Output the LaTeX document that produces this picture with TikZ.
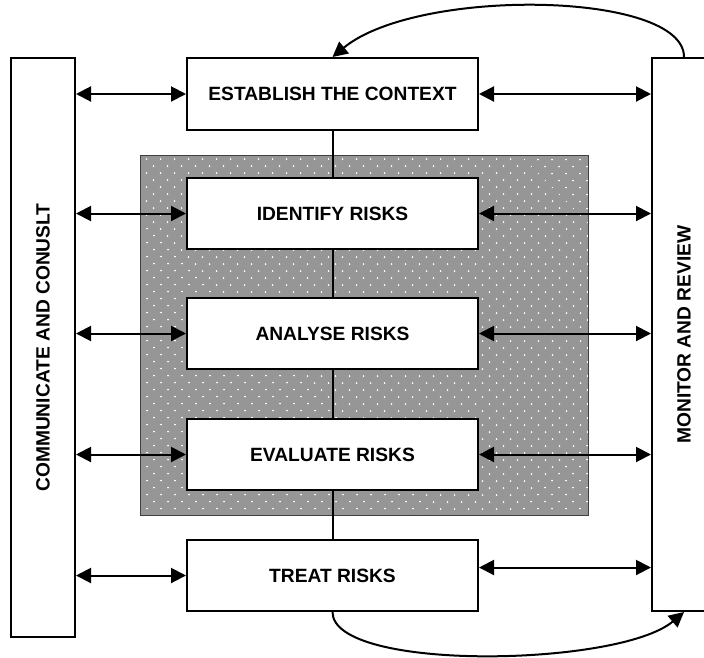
\documentclass[tikz,border=0pt]{standalone}
\usepackage{fontspec}
\setmainfont{Liberation Sans}
\usetikzlibrary{positioning, arrows.meta, patterns.meta}

\begin{document}
\begin{tikzpicture}[x=1pt, y=-1pt, line width=2pt,
	>={Triangle[length=15pt,width=15pt]},
	stage/.style={draw, fill=white, minimum width=291pt, minimum height=71pt,
		inner sep=0pt, font=\bfseries\fontsize{19.2}{22}\selectfont},
	side/.style={draw, fill=white, rotate=90, minimum height=64pt,
		inner sep=0pt, font=\bfseries\fontsize{19.2}{22}\selectfont}]
	\useasboundingbox (0,0) rectangle (704,657);
	
	\fill[black!41] (140,155) rectangle (588,515);
	\fill[pattern={Dots[angle=45, distance=10.5pt, radius=1pt]}, pattern color=white]
		(140,155) rectangle (588,515);
	\draw[black!75, line width=1pt] (140,155) rectangle (588,515);
	
	\node[stage, minimum height=72pt] (ctx) at (332.5,94) {ESTABLISH THE CONTEXT};
	\node[stage, below=46pt of ctx] (idf) {IDENTIFY RISKS};
	\node[stage, below=47pt of idf] (ana) {ANALYSE RISKS};
	\node[stage, below=48pt of ana] (eva) {EVALUATE RISKS};
	\node[stage, below=48pt of eva] (trt) {TREAT RISKS};
	\node[side, minimum width=579pt] (com) at (43,347.5) {COMMUNICATE AND CONUSLT};
	\node[side, minimum width=553pt] (mon) at (684,334.5) {MONITOR AND REVIEW};
	\coordinate (trtr) at ([yshift=8pt]trt.east);
	
	\foreach \a/\b in {ctx/idf, idf/ana, ana/eva, eva/trt}
		\draw (\a) -- (\b);
	
	\foreach \n in {ctx, idf, ana, eva, trt}
		\draw[<->] (com.south |- \n.west) -- (\n.west);
	\foreach \n in {ctx, idf, ana, eva, trtr}
		\draw[<->] (\n) -- (mon.north |- \n);
	
	\draw[->] (mon.east) .. controls +(0,-66) and +(85,-70) .. (ctx.north);
	\draw[->] (trt.south) .. controls +(0,60) and +(-65,55) .. (mon.west);
\end{tikzpicture}
\end{document}
